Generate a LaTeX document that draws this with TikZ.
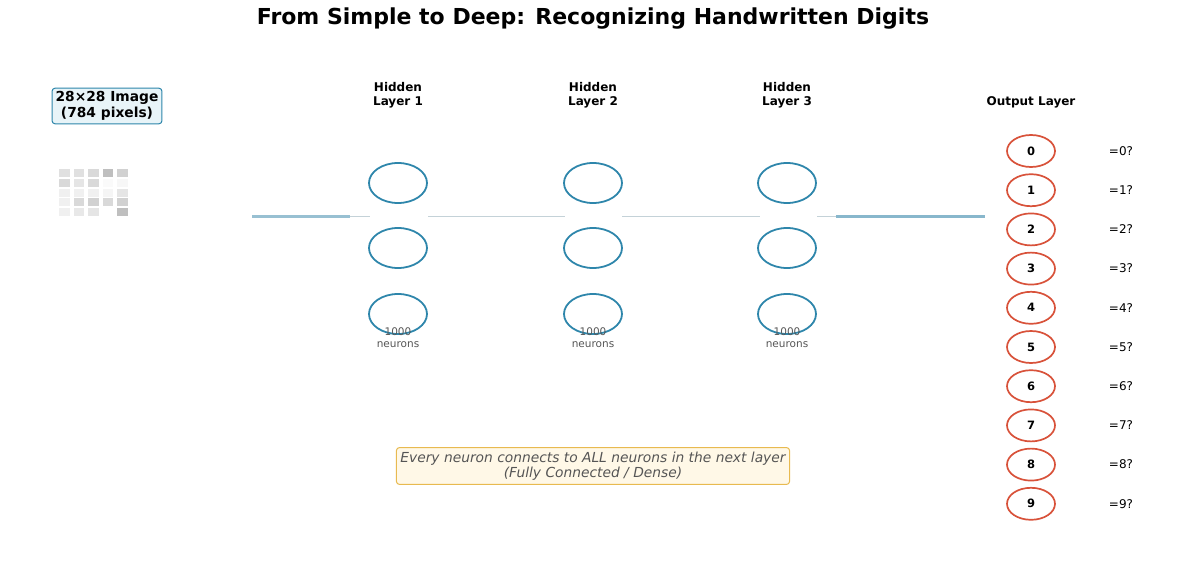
\documentclass[tikz,border=0pt]{standalone}
\usepackage{fontspec}
\setmainfont{DejaVu Sans}
\usetikzlibrary{positioning,
        shapes.geometric}
\definecolor{hidblue}{RGB}{46,134,171}
\definecolor{outred}{RGB}{216,82,58}
\definecolor{linkblue}{RGB}{152,192,210}
\definecolor{linkgray}{RGB}{196,210,216}
\definecolor{boxblue}{RGB}{232,244,248}
\definecolor{notefill}{RGB}{255,248,231}
\definecolor{noteedge}{RGB}{232,186,80}
\definecolor{textgray}{RGB}{85,85,85}

\begin{document}
\begin{tikzpicture}[x=1pt,y=-1pt,
        hidden/.style={ellipse,draw=hidblue,line width=1.8pt,minimum width=58pt,minimum height=40pt,inner sep=0pt},
        outneuron/.style={ellipse,draw=outred,line width=1.7pt,minimum width=48pt,minimum height=32pt,inner sep=0pt,font=\fontsize{11.5}{13}\selectfont\bfseries},
        layertitle/.style={align=center,font=\fontsize{12}{14}\selectfont\bfseries},
        countlabel/.style={align=center,text=textgray,font=\fontsize{10.5}{12}\selectfont,inner sep=0pt},
        thicklink/.style={draw=linkblue,line width=3pt},
        thinlink/.style={draw=linkgray,line width=1pt}]
            \useasboundingbox (0,0) rectangle (1187,586);

            % title
            \node [font=\fontsize{22}{24}\selectfont\bfseries] (title) at (593,19) {From Simple to Deep: Recognizing Handwritten Digits};

            % input image
            \node [draw=hidblue,fill=boxblue,rounded corners=3pt,line width=1pt,align=center,inner sep=3.5pt,
                   font=\fontsize{13.8}{15.5}\selectfont\bfseries] (imglabel) at (107,106) {28×28 Image\\(784 pixels)};
            \foreach \c/\r/\g in {0/0/12,1/0/12,2/0/15,3/0/25,4/0/18,
                                  0/1/15,1/1/10,2/1/15,3/1/2,4/1/3,
                                  0/2/6,1/2/6,2/2/6,3/2/4,4/2/10,
                                  0/3/6,1/3/15,2/3/18,3/3/15,4/3/18,
                                  0/4/6,1/4/9,2/4/10,4/4/25}
                \fill [black!\g] (59+14.5*\c,169+9.8*\r) rectangle ++(10.5,8);

            % hidden layers
            \foreach \i/\x in {1/398,2/593,3/787} {
                \node [layertitle] (t\i) at (\x,95) {Hidden\\Layer \i};
                \node [hidden] (h\i1) at (\x,183) {};
                \node [hidden] (h\i2) at (\x,248) {};
                \node [hidden] (h\i3) at (\x,314) {};
                \node [countlabel] (n\i) at (\x,338) {1000\\neurons};
            }

            % output layer
            \node [layertitle] (tout) at (1031,102) {Output Layer};
            \foreach \d in {0,...,9} {
                \node [outneuron] (o\d) at (1031,151+39.2*\d) {\d};
                \node [font=\fontsize{12}{14}\selectfont] (q\d) at (1121,151+39.2*\d) {=\d?};
            }

            % links
            \coordinate (inA) at (252,216);
            \coordinate (inB) at (350,216);
            \coordinate (l1in) at (370,216);
            \coordinate (l1out) at (428,216);
            \coordinate (l2in) at (565,216);
            \coordinate (l2out) at (622,216);
            \coordinate (l3in) at (760,216);
            \coordinate (l3out) at (817,216);
            \coordinate (outB) at (836,216);
            \coordinate (outA) at (985,216);
            \draw [thicklink] (inA) -- (inB);
            \draw [thinlink] (inB) -- (l1in);
            \draw [thinlink] (l1out) -- (l2in);
            \draw [thinlink] (l2out) -- (l3in);
            \draw [thinlink] (l3out) -- (outB);
            \draw [thicklink,draw=linkblue!85!hidblue] (outB) -- (outA);

            % note
            \node [draw=noteedge,fill=notefill,rounded corners=3pt,line width=1pt,align=center,inner sep=4pt,text=textgray,
                   font=\fontsize{13.8}{15.5}\selectfont\itshape] (note) at (593,466) {Every neuron connects to ALL neurons in the next layer\\(Fully Connected / Dense)};
        \end{tikzpicture}
\end{document}
